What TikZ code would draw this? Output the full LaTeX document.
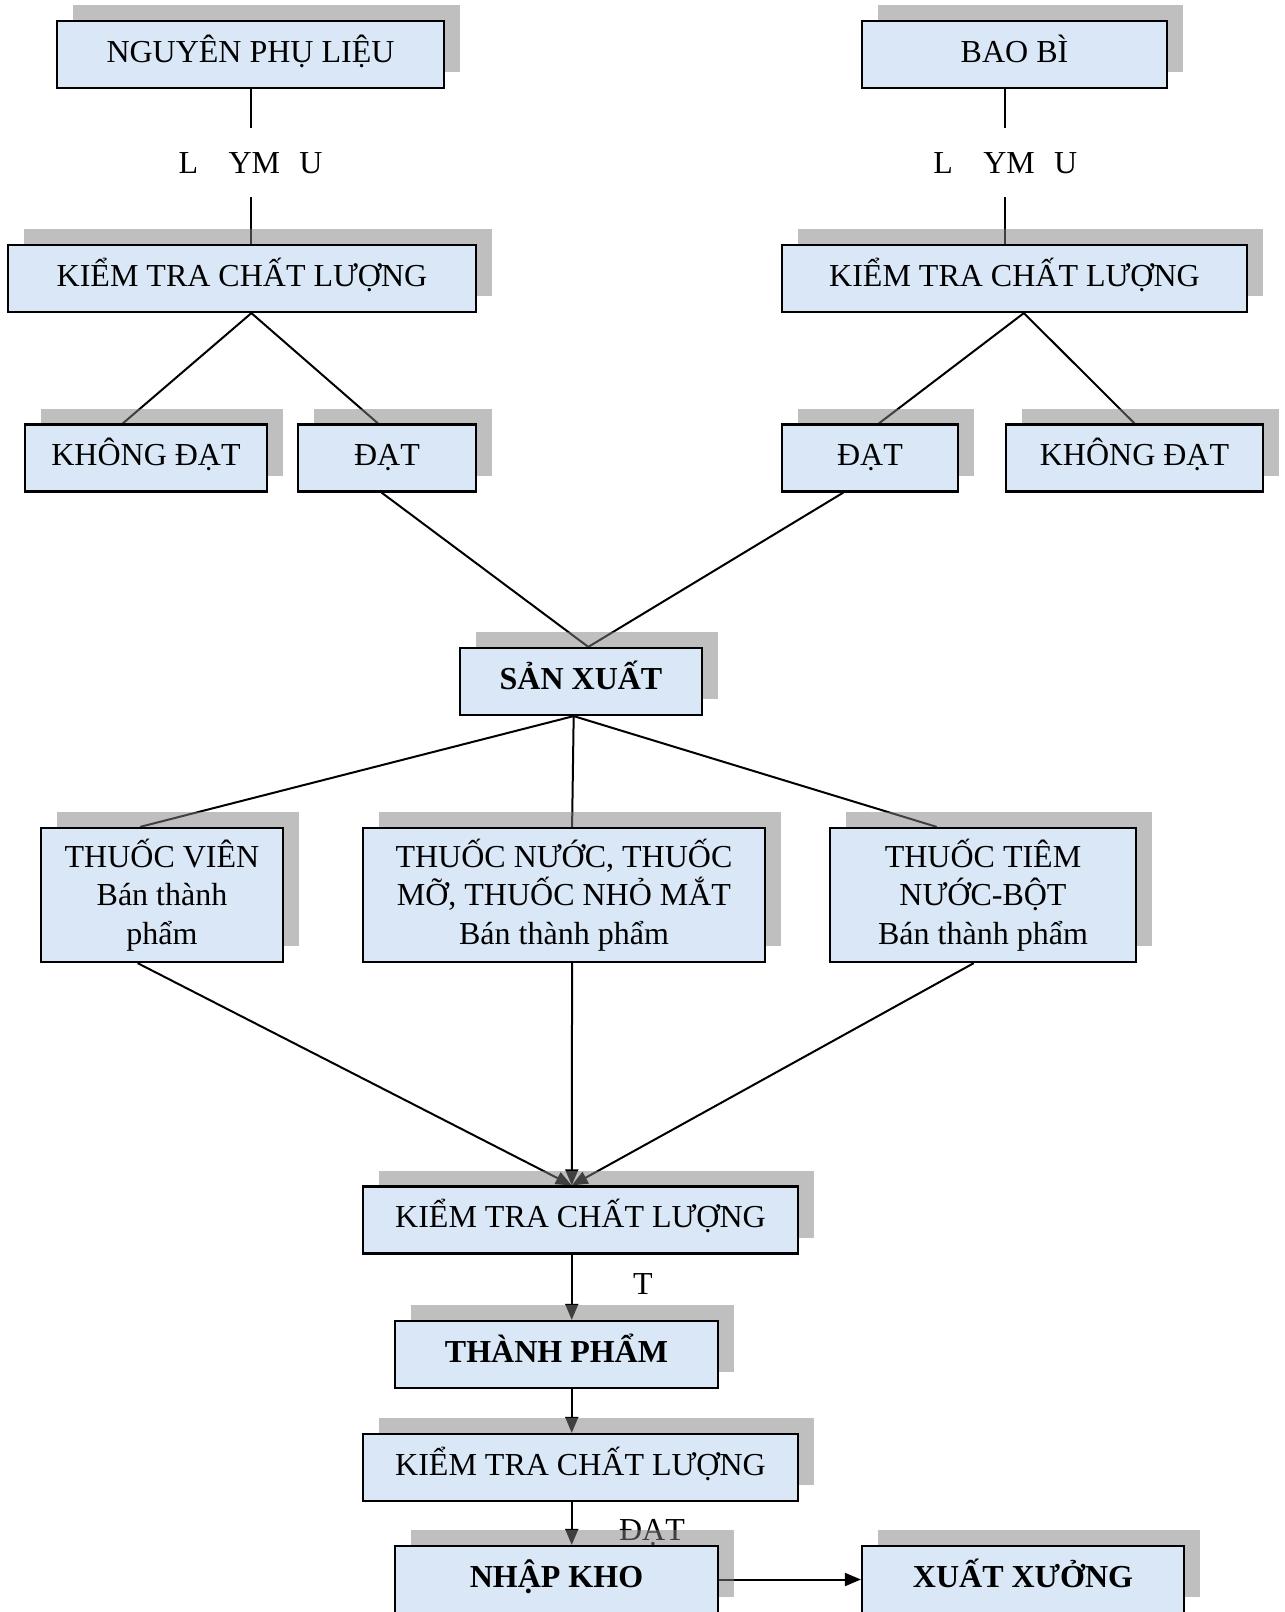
\documentclass[tikz,border=0pt]{standalone}
\usepackage{fontspec}
\setmainfont{Liberation Serif}
\usepackage{tikz}
\usetikzlibrary{shapes}
\usetikzlibrary{arrows.meta}
\usetikzlibrary{positioning}
\usetikzlibrary{calc}
\usetikzlibrary{shadows}
\usetikzlibrary{backgrounds}
\definecolor{boxfill}{HTML}{D9E7F6}
\newcommand{\bigfont}{\fontsize{32}{38.5}\selectfont}

\begin{document}
\begin{tikzpicture}[
  x=1pt, y=-1pt,
  dep/.style ={
    line width=2pt
  },
  arr/.style ={
    dep, -{Triangle[length=16pt,width=13pt]}
  },
  box/.style={
    rectangle,
    draw=black,
    line width=2.2pt,
    fill=boxfill,
    minimum width=#1,
    minimum height=67pt,
    inner sep=0pt,
    align=center,
    font=\bigfont,
    drop shadow={shadow xshift=16pt, shadow yshift=16pt}},
  onebox/.style={
    box=#1,
    text height=15pt,
    text depth=0pt},
  boldbox/.style={
    onebox=#1,
    font=\bigfont\bfseries},
  lbl/.style={
    font=\bigfont,
    inner sep=0pt,
    text height=21pt,
    text depth=0pt},
  gap/.style={
    lbl,
    fill=white,
    yshift=4pt,
    minimum height=69pt},
]

  \useasboundingbox (0,0) rectangle (1285,1612);
  \clip (0,0) rectangle (1285,1612);

  % Raw materials and packaging
  \node[onebox=387pt] (nguyen) at (250.5,54.5) {NGUYÊN PHỤ LIỆU};
  \node[onebox=305pt] (baobi)  at (1014.5,54.5) {BAO BÌ};

  \node[onebox=468pt] (ktcll) at (242,278.5)    {KIỂM TRA CHẤT LƯỢNG};
  \node[onebox=465pt] (ktclr) at (1014.5,278.5) {KIỂM TRA CHẤT LƯỢNG};

  \node[onebox=242pt] (kdl)  at (146,458)    {KHÔNG ĐẠT};
  \node[onebox=178pt] (datl) at (387,458)    {ĐẠT};
  \node[onebox=176pt] (datr) at (870,458)    {ĐẠT};
  \node[onebox=257pt] (kdr)  at (1134.5,458) {KHÔNG ĐẠT};

  % Production
  \node[boldbox=242pt] (sanxuat) at (581,681.5) {SẢN XUẤT};

  \node[box=242pt, minimum height=134pt] (tv) at (162,895)
      {THUỐC VIÊN\\Bán thành\\phẩm};
  \node[box=402pt, minimum height=134pt] (tn) at (564,895)
      {THUỐC NƯỚC, THUỐC\\MỠ, THUỐC NHỎ MẮT\\Bán thành phẩm};
  \node[box=306pt, minimum height=134pt] (tt) at (983,895)
      {THUỐC TIÊM\\NƯỚC-BỘT\\Bán thành phẩm};

  % Finished goods
  \node[onebox=435pt]  (ktclone) at (580.5,1220)   {KIỂM TRA CHẤT LƯỢNG};
  \node[boldbox=323pt] (tp)      at (556.5,1354.5) {THÀNH PHẨM};
  \node[onebox=435pt]  (ktcltwo) at (580.5,1467.5) {KIỂM TRA CHẤT LƯỢNG};
  \node[boldbox=323pt] (nk)      at (556.5,1579.5) {NHẬP KHO};
  \node[boldbox=322pt] (xx)      at (1023,1579.5)  {XUẤT XƯỞNG};

  \begin{scope}[on background layer]
    \coordinate (bbfoot) at ($(baobi.south west)!.47!(baobi.south east)$);
    \draw[dep] (nguyen.south) --
        node[gap] {L\hspace{0.95em}YM\hspace{0.6em}U} (nguyen.south |- ktcll.north);
    \draw[dep] (bbfoot) --
        node[gap] {L\hspace{0.95em}YM\hspace{0.6em}U} (bbfoot |- ktclr.north);

    \coordinate (lsrc) at ($(ktcll.south west)!.52!(ktcll.south east)$);
    \coordinate (rsrc) at ($(ktclr.south west)!.52!(ktclr.south east)$);
    \draw[dep] (lsrc) -- ($(kdl.north west)!.405!(kdl.north east)$);
    \draw[dep] (lsrc) -- ($(datl.north west)!.45!(datl.north east)$);
    \draw[dep] (rsrc) -- ($(datr.north west)!.55!(datr.north east)$);
    \draw[dep] (rsrc) -- (kdr.north);

    \coordinate (sxtop) at ($(sanxuat.north west)!.53!(sanxuat.north east)$);
    \coordinate (sxbot) at ($(sanxuat.south west)!.47!(sanxuat.south east)$);
    \draw[dep] ($(datl.south west)!.47!(datl.south east)$) -- (sxtop);
    \draw[dep] ($(datr.south west)!.35!(datr.south east)$) -- (sxtop);

    \foreach \n/\f in {tv/.41, tn/.52, tt/.35} {
        \draw[dep] (sxbot) -- ($(\n.north west)!\f!(\n.north east)$);
    }

    \coordinate (kin) at ($(ktclone.north west)!.48!(ktclone.north east)$);
    \foreach \n/\f in {tv/.40, tn/.52, tt/.47} {
        \draw[arr] ($(\n.south west)!\f!(\n.south east)$) -- (kin);
    }

    \draw[arr] (ktclone.south -| kin) -- (tp.north -| kin);
    \node[lbl] (tlbl) at (643,1284) {T};
    \draw[arr] (tp.south -| kin) -- (ktcltwo.north -| kin);
    \draw[arr] (ktcltwo.south -| kin) -- (nk.north -| kin);
    \node[lbl] (dlbl) at (652,1530) {ĐẠT};
    \draw[arr] (nk.east) -- (xx.west);
  \end{scope}

\end{tikzpicture}
\end{document}
